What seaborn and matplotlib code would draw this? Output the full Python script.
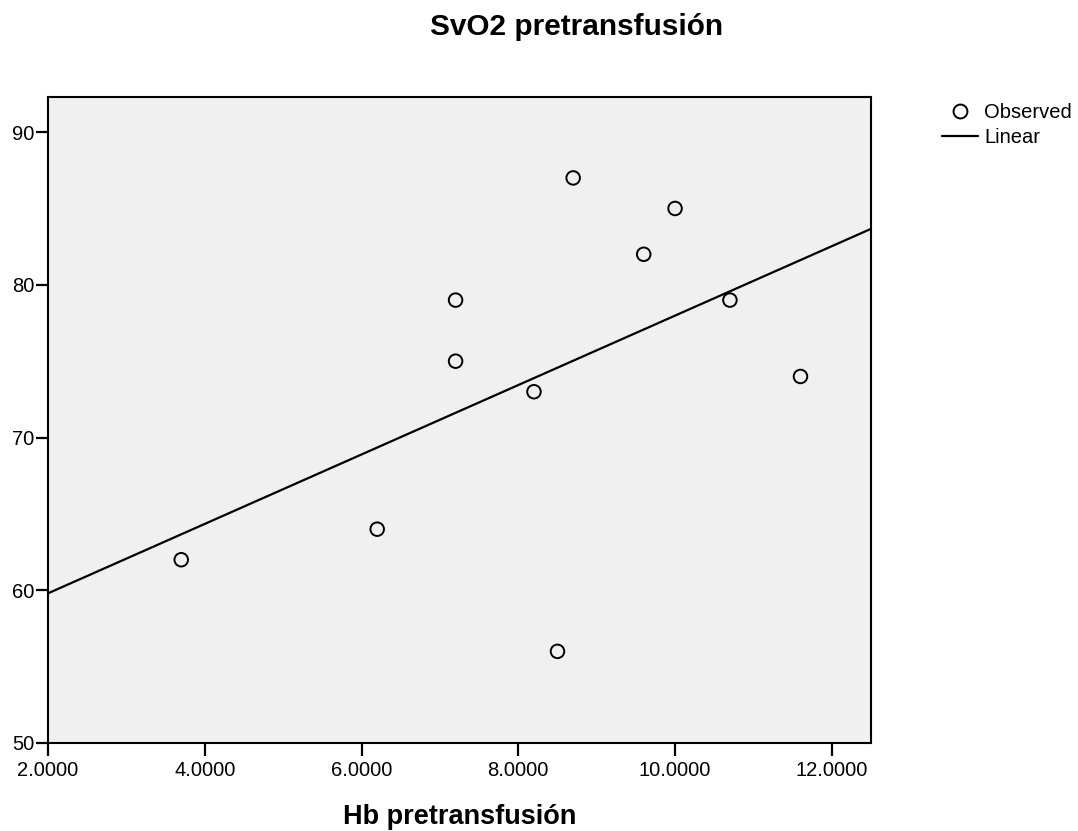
import matplotlib
matplotlib.use("Agg")
import matplotlib.pyplot as plt
import matplotlib.ticker as mticker
from matplotlib.lines import Line2D
import seaborn as sns
import pandas as pd

hb = [3.7, 6.2, 7.2, 7.2, 8.2, 8.5, 8.7, 9.6, 10.0, 10.7, 11.6]
svo2 = [62, 64, 79, 75, 73, 56, 87, 82, 85, 79, 74]
x_ticks = [2, 4, 6, 8, 10, 12]
y_ticks = [50, 60, 70, 80, 90]

df = pd.DataFrame({"Hb": hb, "SvO2": svo2})

sns.set_style("ticks")
plt.rcParams['font.family'] = ['Liberation Sans', 'DejaVu Sans']
plt.rcParams['text.color'] = 'black'
plt.rcParams['axes.labelcolor'] = 'black'
plt.rcParams['xtick.color'] = 'black'
plt.rcParams['ytick.color'] = 'black'

fig = plt.figure(figsize=(10.78, 8.31), dpi=100)
ax = fig.add_axes([0.0445, 0.1059, 0.7635, 0.7774])
ax.set_facecolor("#F0F0F0")
ax.set_xlim(2, 12.5)
ax.set_ylim(50, 92.3)

sns.regplot(data=df, x="Hb", y="SvO2", ax=ax, ci=None, truncate=False,
            scatter_kws=dict(s=95, facecolors="none", edgecolors="black",
                             linewidths=1.4, alpha=1, zorder=3),
            line_kws=dict(color="black", linewidth=1.6))

ax.set_xlim(2, 12.5)
ax.set_ylim(50, 92.3)
ax.set_xticks(x_ticks)
ax.set_yticks(y_ticks)
ax.xaxis.set_major_formatter(mticker.FormatStrFormatter("%.4f"))
ax.tick_params(axis="both", length=9, width=1.6, labelsize=14.5)
ax.tick_params(axis="x", pad=4)
ax.tick_params(axis="y", pad=1)
for sp in ax.spines.values():
    sp.set_visible(True)
    sp.set_linewidth(1.5)
    sp.set_color("black")

ax.set_xlabel("Hb pretransfusión", fontsize=19.5, fontweight="bold", labelpad=17)
ax.set_ylabel("")
fig.text(0.535, 1 - 35 / 831, "SvO2 pretransfusión", fontsize=21.4, fontweight="bold",
         ha="center", va="baseline")

handles = [
    Line2D([], [], linestyle="none", marker="o", markersize=10,
           markerfacecolor="none", markeredgecolor="black", markeredgewidth=1.4),
    Line2D([], [], color="black", linewidth=1.6),
]
fig.legend(handles, ["Observed", "Linear"], loc="upper left",
           bbox_to_anchor=(0.857, 0.898), frameon=False,
           fontsize=14.5, handlelength=1.8, handletextpad=0.3, labelspacing=0.32)

fig.savefig("out.png", dpi=100)
